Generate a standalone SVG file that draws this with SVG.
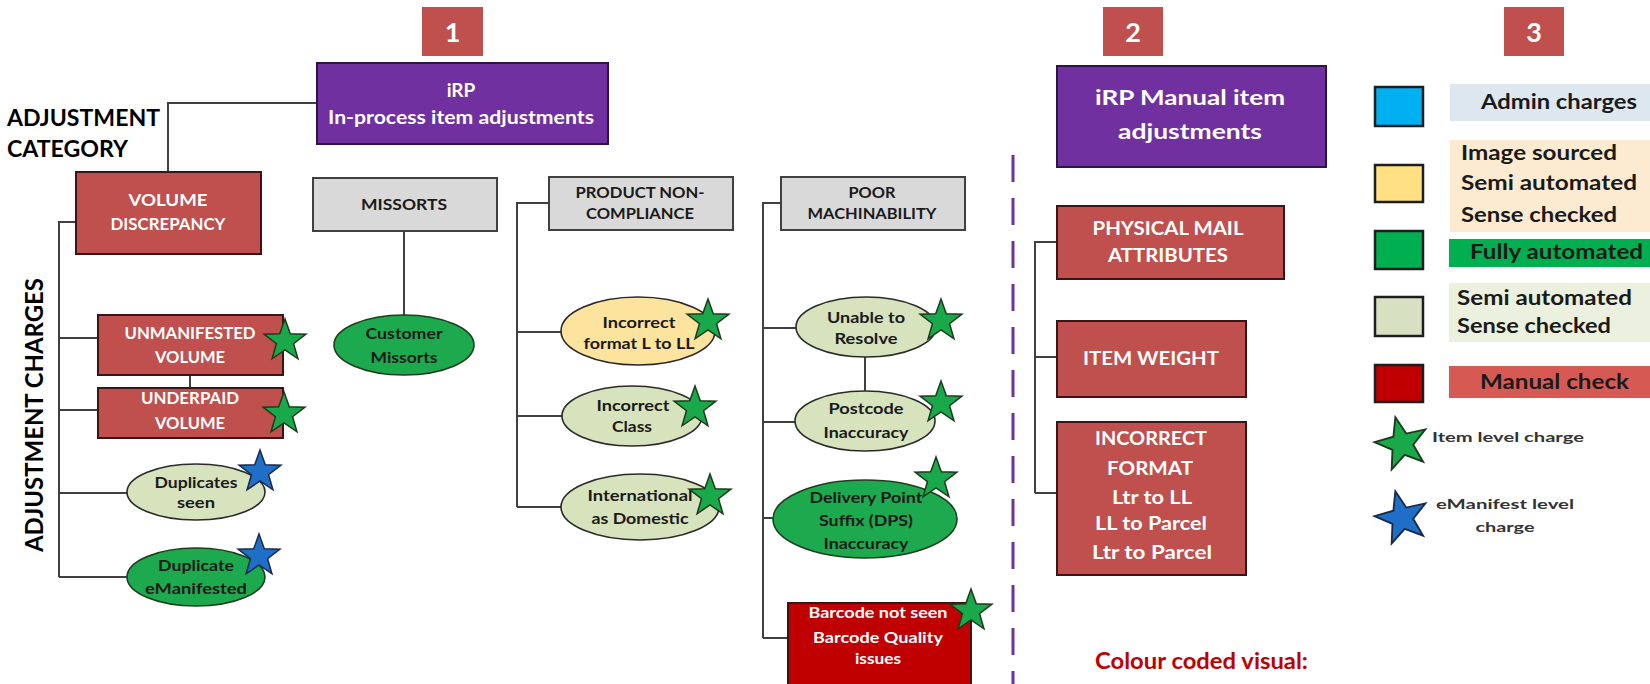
<svg xmlns="http://www.w3.org/2000/svg" xmlns:xlink="http://www.w3.org/1999/xlink" width="1650" height="684" viewBox="0 0 1650 684">
<defs>
<style>
text{font-family:Lato,"Liberation Sans","DejaVu Sans",sans-serif;font-weight:bold;}
.badge{fill:#C0504D;}
.badgeT{fill:#fff;font-size:27px;text-anchor:middle;}
.purple{fill:#7030A0;stroke:#2e1446;stroke-width:2;}
.red{fill:#C0504D;stroke:#3b1515;stroke-width:2;}
.dred{fill:#C00000;stroke:#3b1515;stroke-width:2;}
.gray{fill:#D9D9D9;stroke:#404040;stroke-width:2;}
.lg{fill:#D6E3BC;stroke:#2a2a2a;stroke-width:1.6;}
.yl{fill:#FDE49E;stroke:#2a2a2a;stroke-width:1.6;}
.gr{fill:#1DAA4F;stroke:#1f3d1f;stroke-width:1.6;}
.wt{fill:#fff;text-anchor:middle;}
.dk{fill:#1a1a1a;text-anchor:middle;}
.s17{font-size:17px;}
.s16{font-size:16px;}
.s19{font-size:19px;}
.s21{font-size:21px;}
.conn{fill:none;stroke:#404040;stroke-width:2;}
.sg{fill:#19A84A;stroke:#1c3a1c;stroke-width:1.5;}
.sb{fill:#1F6FC8;stroke:#1a2a4a;stroke-width:1.5;}
.lgT{fill:#1a1a1a;font-size:21px;}
.lgS{fill:#333;font-size:14px;}
.sq{stroke:#1e1e1e;stroke-width:2.5;}
</style>
<path id="star" d="M0,-22 L5.29,-7.28 L20.92,-6.8 L8.56,2.78 L12.93,17.8 L0,9 L-12.93,17.8 L-8.56,2.78 L-20.92,-6.8 L-5.29,-7.28 Z"/>
</defs>
<rect width="1650" height="684" fill="#fff"/>

<g id="labels">
<text x="7" y="126" font-size="22" fill="#000" textLength="153" lengthAdjust="spacingAndGlyphs">ADJUSTMENT</text>
<text x="7" y="157" font-size="22" fill="#000" textLength="121" lengthAdjust="spacingAndGlyphs">CATEGORY</text>
<text transform="translate(43,415) rotate(-90)" font-size="24" fill="#000" text-anchor="middle" textLength="274" lengthAdjust="spacingAndGlyphs">ADJUSTMENT CHARGES</text>
<text x="1095" y="669" font-size="22" fill="#C00000" textLength="213" lengthAdjust="spacingAndGlyphs">Colour coded visual:</text>
</g>

<g id="badge1"><rect class="badge" x="422" y="7" width="61" height="49"/><text class="badgeT" x="452.5" y="42">1</text></g>
<g id="badge2"><rect class="badge" x="1103" y="7" width="60" height="49"/><text class="badgeT" x="1133" y="42">2</text></g>
<g id="badge3"><rect class="badge" x="1504" y="7" width="60" height="49"/><text class="badgeT" x="1534" y="42">3</text></g>

<g id="divider"><line x1="1013" y1="155" x2="1013" y2="684" stroke="#7030A0" stroke-width="3" stroke-dasharray="27 16"/></g>

<g id="connectors">
<path class="conn" d="M317,103 H168 V172"/>
<path class="conn" d="M76,222 H59 V577 M59,338 H98 M59,410 H98 M59,493 H127 M59,577 H127"/>
<path class="conn" d="M190,375 V388"/>
<path class="conn" d="M404,231 V315"/>
<path class="conn" d="M549,203 H517 V507 M517,332 H561 M517,416 H562 M517,507 H561"/>
<path class="conn" d="M781,203 H763 V638 M763,328 H797 M763,422 H795 M763,518 H773"/>
<path class="conn" d="M763,638 H788" stroke-width="3"/>
<path class="conn" d="M865,357 V391"/>
<path class="conn" d="M1057,242 H1035 V493 M1035,357 H1057 M1035,493 H1057"/>
</g>

<g id="irp">
<rect class="purple" x="317" y="63" width="291" height="81"/>
<text class="wt s19" x="461" y="97">iRP</text>
<text class="wt s19" x="461" y="124" textLength="266" lengthAdjust="spacingAndGlyphs">In-process item adjustments</text>
</g>

<g id="volume-discrepancy">
<rect class="red" x="76" y="172" width="185" height="82"/>
<text class="wt s17" x="168" y="206" textLength="79" lengthAdjust="spacingAndGlyphs">VOLUME</text>
<text class="wt s17" x="168" y="230" textLength="115" lengthAdjust="spacingAndGlyphs">DISCREPANCY</text>
</g>

<g id="unmanifested">
<rect class="red" x="98" y="315" width="185" height="60"/>
<text class="wt s17" x="190" y="339" textLength="131" lengthAdjust="spacingAndGlyphs">UNMANIFESTED</text>
<text class="wt s17" x="190" y="363" textLength="70" lengthAdjust="spacingAndGlyphs">VOLUME</text>
</g>

<g id="underpaid">
<rect class="red" x="98" y="388" width="185" height="50"/>
<text class="wt s17" x="190" y="404" textLength="98" lengthAdjust="spacingAndGlyphs">UNDERPAID</text>
<text class="wt s17" x="190" y="429" textLength="70" lengthAdjust="spacingAndGlyphs">VOLUME</text>
</g>

<g id="duplicates-seen">
<ellipse class="lg" cx="196" cy="492" rx="69" ry="28"/>
<text class="dk s16" x="196" y="488" textLength="83" lengthAdjust="spacingAndGlyphs">Duplicates</text>
<text class="dk s16" x="196" y="508" textLength="38" lengthAdjust="spacingAndGlyphs">seen</text>
</g>

<g id="duplicate-emanifested">
<ellipse class="gr" cx="196" cy="577" rx="69" ry="29"/>
<text class="dk s16" x="196" y="571" textLength="76" lengthAdjust="spacingAndGlyphs">Duplicate</text>
<text class="dk s16" x="196" y="594" textLength="102" lengthAdjust="spacingAndGlyphs">eManifested</text>
</g>

<g id="missorts">
<rect class="gray" x="313" y="178" width="184" height="53"/>
<text class="dk s16" x="404" y="210" textLength="86" lengthAdjust="spacingAndGlyphs">MISSORTS</text>
</g>

<g id="customer-missorts">
<ellipse class="gr" cx="404" cy="345" rx="70" ry="30"/>
<text class="dk s16" x="404" y="339" textLength="77" lengthAdjust="spacingAndGlyphs">Customer</text>
<text class="dk s16" x="404" y="363" textLength="67" lengthAdjust="spacingAndGlyphs">Missorts</text>
</g>

<g id="product-non-compliance">
<rect class="gray" x="549" y="177" width="184" height="53"/>
<text class="dk s16" x="640" y="198" textLength="129" lengthAdjust="spacingAndGlyphs">PRODUCT NON-</text>
<text class="dk s16" x="640" y="219" textLength="108" lengthAdjust="spacingAndGlyphs">COMPLIANCE</text>
</g>

<g id="incorrect-format">
<ellipse class="yl" cx="638" cy="331" rx="77" ry="34"/>
<text class="dk s16" x="639" y="328" textLength="73" lengthAdjust="spacingAndGlyphs">Incorrect</text>
<text class="dk s16" x="639" y="349" textLength="111" lengthAdjust="spacingAndGlyphs">format L to LL</text>
</g>

<g id="incorrect-class">
<ellipse class="lg" cx="632" cy="416" rx="70" ry="30"/>
<text class="dk s16" x="633" y="411" textLength="73" lengthAdjust="spacingAndGlyphs">Incorrect</text>
<text class="dk s16" x="632" y="432" textLength="40" lengthAdjust="spacingAndGlyphs">Class</text>
</g>

<g id="international">
<ellipse class="lg" cx="640" cy="507" rx="79" ry="33"/>
<text class="dk s16" x="640" y="501" textLength="105" lengthAdjust="spacingAndGlyphs">International</text>
<text class="dk s16" x="640" y="524" textLength="97" lengthAdjust="spacingAndGlyphs">as Domestic</text>
</g>

<g id="poor-machinability">
<rect class="gray" x="781" y="177" width="184" height="53"/>
<text class="dk s16" x="872" y="198" textLength="47" lengthAdjust="spacingAndGlyphs">POOR</text>
<text class="dk s16" x="872" y="219" textLength="129" lengthAdjust="spacingAndGlyphs">MACHINABILITY</text>
</g>

<g id="unable-to-resolve">
<ellipse class="lg" cx="866" cy="327" rx="70" ry="30"/>
<text class="dk s16" x="866" y="323" textLength="78" lengthAdjust="spacingAndGlyphs">Unable to</text>
<text class="dk s16" x="866" y="344" textLength="63" lengthAdjust="spacingAndGlyphs">Resolve</text>
</g>

<g id="postcode">
<ellipse class="lg" cx="865" cy="421" rx="70" ry="30"/>
<text class="dk s16" x="866" y="414" textLength="75" lengthAdjust="spacingAndGlyphs">Postcode</text>
<text class="dk s16" x="866" y="438" textLength="85" lengthAdjust="spacingAndGlyphs">Inaccuracy</text>
</g>

<g id="dps">
<ellipse class="gr" cx="865" cy="519" rx="92" ry="39"/>
<text class="dk s16" x="866" y="503" textLength="113" lengthAdjust="spacingAndGlyphs">Delivery Point</text>
<text class="dk s16" x="866" y="526" textLength="94" lengthAdjust="spacingAndGlyphs">Suffix (DPS)</text>
<text class="dk s16" x="866" y="549" textLength="85" lengthAdjust="spacingAndGlyphs">Inaccuracy</text>
</g>

<g id="barcode">
<rect class="dred" x="788" y="603" width="183" height="90"/>
<text class="wt s16" x="878" y="618" textLength="139" lengthAdjust="spacingAndGlyphs">Barcode not seen</text>
<text class="wt s16" x="878" y="643" textLength="130" lengthAdjust="spacingAndGlyphs">Barcode Quality</text>
<text class="wt s16" x="878" y="664" textLength="46" lengthAdjust="spacingAndGlyphs">issues</text>
</g>

<g id="irp-manual">
<rect class="purple" x="1057" y="66" width="269" height="101"/>
<text class="wt s21" x="1190" y="105" textLength="190" lengthAdjust="spacingAndGlyphs">iRP Manual item</text>
<text class="wt s21" x="1190" y="139" textLength="144" lengthAdjust="spacingAndGlyphs">adjustments</text>
</g>

<g id="physical-mail">
<rect class="red" x="1057" y="206" width="227" height="73"/>
<text class="wt s19" x="1168" y="235" textLength="151" lengthAdjust="spacingAndGlyphs">PHYSICAL MAIL</text>
<text class="wt s19" x="1168" y="262" textLength="120" lengthAdjust="spacingAndGlyphs">ATTRIBUTES</text>
</g>

<g id="item-weight">
<rect class="red" x="1057" y="321" width="189" height="76"/>
<text class="wt s19" x="1151" y="365" textLength="136" lengthAdjust="spacingAndGlyphs">ITEM WEIGHT</text>
</g>

<g id="incorrect-format-manual">
<rect class="red" x="1057" y="422" width="189" height="153"/>
<text class="wt s19" x="1151" y="445" textLength="112" lengthAdjust="spacingAndGlyphs">INCORRECT</text>
<text class="wt s19" x="1150" y="475" textLength="86" lengthAdjust="spacingAndGlyphs">FORMAT</text>
<text class="wt s19" x="1152" y="504" textLength="80" lengthAdjust="spacingAndGlyphs">Ltr to LL</text>
<text class="wt s19" x="1151" y="530" textLength="112" lengthAdjust="spacingAndGlyphs">LL to Parcel</text>
<text class="wt s19" x="1152" y="559" textLength="120" lengthAdjust="spacingAndGlyphs">Ltr to Parcel</text>
</g>

<g id="stars">
<use xlink:href="#star" class="sg" transform="translate(285,341)"/>
<use xlink:href="#star" class="sg" transform="translate(284,414)"/>
<use xlink:href="#star" class="sb" transform="translate(260,472)"/>
<use xlink:href="#star" class="sb" transform="translate(259,556)"/>
<use xlink:href="#star" class="sg" transform="translate(708,321)"/>
<use xlink:href="#star" class="sg" transform="translate(695,408)"/>
<use xlink:href="#star" class="sg" transform="translate(710,496)"/>
<use xlink:href="#star" class="sg" transform="translate(941,321)"/>
<use xlink:href="#star" class="sg" transform="translate(941,403)"/>
<use xlink:href="#star" class="sg" transform="translate(936,479)"/>
<use xlink:href="#star" class="sg" transform="translate(971,611)"/>
</g>

<g id="legend">
<rect class="sq" x="1375" y="87" width="48" height="39" fill="#00B0F0"/>
<rect x="1450" y="84" width="200" height="37" fill="#DCE7EF"/>
<text class="lgT" x="1481" y="109" textLength="156" lengthAdjust="spacingAndGlyphs">Admin charges</text>

<rect class="sq" x="1375" y="165" width="48" height="37" fill="#FFE083"/>
<rect x="1450" y="140" width="200" height="92" fill="#FDEBD1"/>
<text class="lgT" x="1461" y="160" textLength="156" lengthAdjust="spacingAndGlyphs">Image sourced</text>
<text class="lgT" x="1461" y="190" textLength="176" lengthAdjust="spacingAndGlyphs">Semi automated</text>
<text class="lgT" x="1461" y="222" textLength="156" lengthAdjust="spacingAndGlyphs">Sense checked</text>

<rect class="sq" x="1375" y="231" width="48" height="38" fill="#00B050"/>
<rect x="1449" y="239" width="201" height="28" fill="#00B050"/>
<text class="lgT" x="1470" y="259" textLength="173" lengthAdjust="spacingAndGlyphs">Fully automated</text>

<rect class="sq" x="1375" y="297" width="48" height="39" fill="#D8E0C2"/>
<rect x="1449" y="283" width="201" height="59" fill="#EBF1DE"/>
<text class="lgT" x="1457" y="305" textLength="175" lengthAdjust="spacingAndGlyphs">Semi automated</text>
<text class="lgT" x="1457" y="333" textLength="154" lengthAdjust="spacingAndGlyphs">Sense checked</text>

<rect class="sq" x="1375" y="365" width="48" height="37" fill="#C00000"/>
<rect x="1449" y="366" width="201" height="32" fill="#D65A53"/>
<text class="lgT" x="1480" y="389" fill="#2a0a0a" textLength="149" lengthAdjust="spacingAndGlyphs">Manual check</text>

<use xlink:href="#star" class="sg" transform="translate(1402,444) rotate(-14) scale(1.25)"/>
<text class="lgS" x="1432" y="442" textLength="152" lengthAdjust="spacingAndGlyphs">Item level charge</text>
<use xlink:href="#star" class="sb" transform="translate(1402,518) rotate(-14) scale(1.25)"/>
<text class="lgS" x="1505" y="509" text-anchor="middle" textLength="138" lengthAdjust="spacingAndGlyphs">eManifest level</text>
<text class="lgS" x="1505" y="532" text-anchor="middle" textLength="59" lengthAdjust="spacingAndGlyphs">charge</text>
</g>
</svg>
